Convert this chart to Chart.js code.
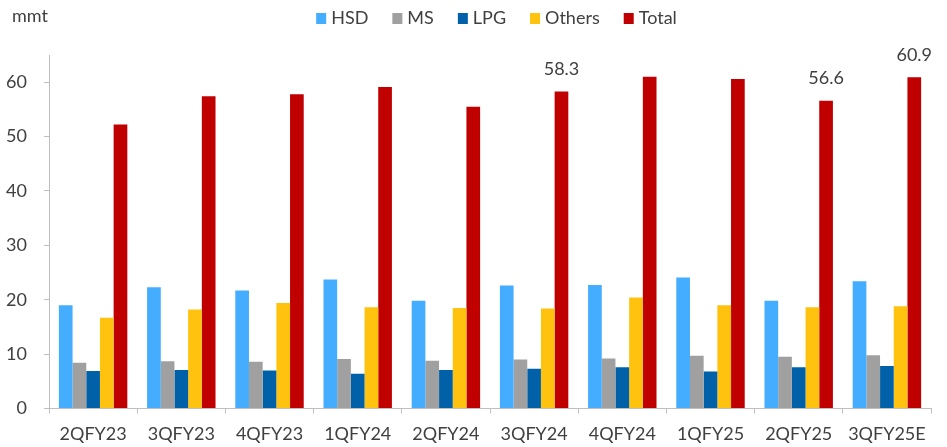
<!DOCTYPE html>
<html>
<head>
<meta charset="utf-8">
<script src="https://cdn.jsdelivr.net/npm/chart.js@4.4.1/dist/chart.umd.min.js"></script>
<style>
  html, body { margin: 0; padding: 0; background: #ffffff; }
  #wrap { width: 947px; height: 447px; position: relative; }
</style>
</head>
<body>
<div id="wrap"><canvas id="c" width="947" height="447"></canvas></div>
<script>
// Quarterly product demand, million metric tonnes
const quarters = ['2QFY23', '3QFY23', '4QFY23', '1QFY24', '2QFY24', '3QFY24', '4QFY24', '1QFY25', '2QFY25', '3QFY25E'];
const hsd    = [19.0, 22.3, 21.7, 23.7, 19.8, 22.6, 22.7, 24.1, 19.8, 23.4];
const ms     = [8.4, 8.7, 8.6, 9.1, 8.8, 9.0, 9.2, 9.7, 9.5, 9.8];
const lpg    = [6.9, 7.1, 7.0, 6.4, 7.1, 7.3, 7.6, 6.8, 7.6, 7.8];
const others = [16.7, 18.2, 19.4, 18.6, 18.5, 18.4, 20.4, 19.0, 18.6, 18.8];
const total  = [52.2, 57.4, 57.8, 59.1, 55.5, 58.3, 61.0, 60.6, 56.6, 60.9];
const labelledTotals = ['3QFY24', '2QFY25', '3QFY25E'];
const yTicks = [0, 10, 20, 30, 40, 50, 60];
const unitLabel = 'mmt';

const FONT = 'Lato, "Open Sans", sans-serif';
const TEXT = '#404040';
const AXIS = '#bfbfbf';
const SIZE = 18;

// Legend row drawn across the top, centred over the plot
const topLegend = {
  id: 'topLegend',
  afterDraw(chart) {
    const ctx = chart.ctx;
    ctx.save();
    ctx.font = SIZE + 'px ' + FONT;
    ctx.textBaseline = 'middle';
    const box = 10, gap = 5, spacing = 24, cy = 18.5;
    const items = chart.data.datasets.map(d => ({ text: d.label, color: d.backgroundColor, w: ctx.measureText(d.label).width }));
    const full = items.reduce((s, it) => s + box + gap + it.w, 0) + spacing * (items.length - 1);
    let x = 496.5 - full / 2;
    items.forEach(it => {
      ctx.fillStyle = it.color;
      ctx.fillRect(x, cy - 5.5, box, 11);
      ctx.fillStyle = TEXT;
      ctx.textAlign = 'left';
      ctx.fillText(it.text, x + box + gap, cy);
      x += box + gap + it.w + spacing;
    });
    // unit caption above the value axis
    ctx.fillText(unitLabel, 12, 16.5);
    ctx.restore();
  }
};

// Value labels above selected Total bars
const totalLabels = {
  id: 'totalLabels',
  afterDatasetsDraw(chart) {
    const ctx = chart.ctx;
    const idx = chart.data.datasets.length - 1;
    const meta = chart.getDatasetMeta(idx);
    ctx.save();
    ctx.font = SIZE + 'px ' + FONT;
    ctx.fillStyle = TEXT;
    ctx.textAlign = 'center';
    ctx.textBaseline = 'middle';
    chart.data.labels.forEach((lab, i) => {
      if (!labelledTotals.includes(lab)) return;
      const bar = meta.data[i];
      ctx.fillText(total[i].toFixed(1), bar.x, bar.y - 22);
    });
    ctx.restore();
  }
};

new Chart(document.getElementById('c'), {
  type: 'bar',
  data: {
    labels: quarters,
    datasets: [
      { label: 'HSD',    data: hsd,    backgroundColor: '#45adff' },
      { label: 'MS',     data: ms,     backgroundColor: '#a0a0a0' },
      { label: 'LPG',    data: lpg,    backgroundColor: '#0061a8' },
      { label: 'Others', data: others, backgroundColor: '#ffc20e' },
      { label: 'Total',  data: total,  backgroundColor: '#c00000' }
    ]
  },
  options: {
    responsive: false,
    animation: false,
    devicePixelRatio: 1,
    layout: { padding: { top: 55, right: 16, bottom: 0, left: 0 } },
    datasets: { bar: { categoryPercentage: 0.776, barPercentage: 1.0 } },
    plugins: {
      legend: { display: false },
      tooltip: { enabled: false }
    },
    scales: {
      x: {
        offset: true,
        afterFit(scale) { scale.height = 38.5; },
        grid: { display: true, offset: true, drawOnChartArea: false, color: AXIS, tickLength: 5, lineWidth: 1 },
        border: { display: true, color: AXIS, width: 1 },
        ticks: { color: TEXT, font: { family: FONT, size: SIZE }, padding: 10, maxRotation: 0, autoSkip: false }
      },
      y: {
        min: 0,
        max: 65,
        afterBuildTicks(scale) { scale.ticks = yTicks.map(v => ({ value: v })); },
        afterFit(scale) { scale.width = 49; },
        grid: { display: true, drawOnChartArea: false, color: AXIS, tickLength: 5, lineWidth: 1 },
        border: { display: true, color: AXIS, width: 1 },
        ticks: { color: TEXT, font: { family: FONT, size: SIZE }, padding: 17 }
      }
    }
  },
  plugins: [topLegend, totalLabels]
});
</script>
</body>
</html>
